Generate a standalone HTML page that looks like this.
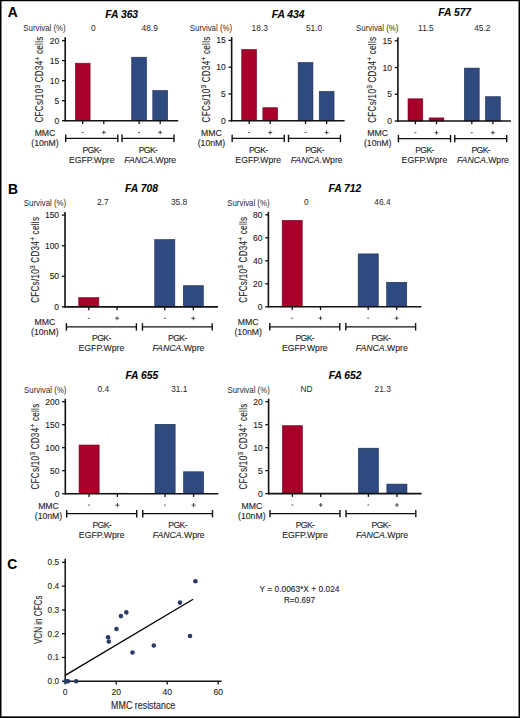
<!DOCTYPE html>
<html><head><meta charset="utf-8"><style>
html,body{margin:0;padding:0;background:#fff;}
body{width:520px;height:718px;overflow:hidden;position:relative;}
svg{position:absolute;left:0;top:0;font-family:'Liberation Sans', sans-serif;}
text{stroke:#333;stroke-width:0.12px;}
</style></head><body>
<svg width="520" height="718" viewBox="0 0 520 718">
<rect x="0" y="0" width="520" height="718" fill="#fff"/>
<rect x="1" y="1" width="1" height="716" fill="#000" fill-opacity="0.5"/>
<rect x="1" y="1" width="517" height="1" fill="#000" fill-opacity="0.22"/>
<rect x="518" y="1" width="1" height="716" fill="#000" fill-opacity="0.5"/>
<rect x="1" y="716" width="517" height="1" fill="#000" fill-opacity="0.65"/>
<rect x="0" y="0" width="1" height="718" fill="#000"/>
<rect x="0" y="0" width="520" height="1" fill="#000"/>
<rect x="519" y="0" width="1" height="718" fill="#000"/>
<rect x="0" y="717" width="520" height="1" fill="#000"/>
<g>
<rect x="75.30" y="63.20" width="14.80" height="57.50" fill="#a6002b" stroke="#730a24" stroke-width="0.6"/>
<rect x="131.70" y="57.20" width="14.80" height="63.50" fill="#2e4a7f" stroke="#1d2c52" stroke-width="0.6"/>
<rect x="152.80" y="90.50" width="14.80" height="30.20" fill="#2e4a7f" stroke="#1d2c52" stroke-width="0.6"/>
<line x1="65.20" y1="37.30" x2="65.20" y2="121.35" stroke="#111" stroke-width="1.6"/>
<line x1="64.55" y1="120.70" x2="178.20" y2="120.70" stroke="#111" stroke-width="1.6"/>
<line x1="62.00" y1="120.70" x2="65.20" y2="120.70" stroke="#111" stroke-width="1.3"/>
<text x="59.30" y="123.70" font-size="8.5" text-anchor="end" font-weight="normal" font-style="normal" fill="#222" >0</text>
<line x1="62.00" y1="100.68" x2="65.20" y2="100.68" stroke="#111" stroke-width="1.3"/>
<text x="59.30" y="103.68" font-size="8.5" text-anchor="end" font-weight="normal" font-style="normal" fill="#222" >5</text>
<line x1="62.00" y1="80.65" x2="65.20" y2="80.65" stroke="#111" stroke-width="1.3"/>
<text x="59.30" y="83.65" font-size="8.5" text-anchor="end" font-weight="normal" font-style="normal" fill="#222" >10</text>
<line x1="62.00" y1="60.63" x2="65.20" y2="60.63" stroke="#111" stroke-width="1.3"/>
<text x="59.30" y="63.63" font-size="8.5" text-anchor="end" font-weight="normal" font-style="normal" fill="#222" >15</text>
<line x1="62.00" y1="40.60" x2="65.20" y2="40.60" stroke="#111" stroke-width="1.3"/>
<text x="59.30" y="43.60" font-size="8.5" text-anchor="end" font-weight="normal" font-style="normal" fill="#222" >20</text>
<line x1="82.70" y1="120.70" x2="82.70" y2="124.00" stroke="#111" stroke-width="1.3"/>
<line x1="103.80" y1="120.70" x2="103.80" y2="124.00" stroke="#111" stroke-width="1.3"/>
<line x1="139.10" y1="120.70" x2="139.10" y2="124.00" stroke="#111" stroke-width="1.3"/>
<line x1="160.20" y1="120.70" x2="160.20" y2="124.00" stroke="#111" stroke-width="1.3"/>
<line x1="81.70" y1="132.40" x2="83.70" y2="132.40" stroke="#333" stroke-width="0.8"/>
<line x1="101.80" y1="132.40" x2="105.80" y2="132.40" stroke="#333" stroke-width="0.85"/>
<line x1="103.80" y1="130.40" x2="103.80" y2="134.40" stroke="#333" stroke-width="0.85"/>
<line x1="138.10" y1="132.40" x2="140.10" y2="132.40" stroke="#333" stroke-width="0.8"/>
<line x1="158.20" y1="132.40" x2="162.20" y2="132.40" stroke="#333" stroke-width="0.85"/>
<line x1="160.20" y1="130.40" x2="160.20" y2="134.40" stroke="#333" stroke-width="0.85"/>
<text x="45.00" y="135.60" font-size="8.7" text-anchor="middle" font-weight="normal" font-style="normal" fill="#222" >MMC</text>
<text x="45.00" y="145.80" font-size="8.7" text-anchor="middle" font-weight="normal" font-style="normal" fill="#222" >(10nM)</text>
<line x1="65.70" y1="138.30" x2="117.80" y2="138.30" stroke="#111" stroke-width="1.2"/>
<line x1="65.70" y1="134.60" x2="65.70" y2="142.00" stroke="#111" stroke-width="1.4"/>
<line x1="117.80" y1="134.60" x2="117.80" y2="142.00" stroke="#111" stroke-width="1.4"/>
<line x1="122.05" y1="138.30" x2="174.00" y2="138.30" stroke="#111" stroke-width="1.2"/>
<line x1="122.05" y1="134.60" x2="122.05" y2="142.00" stroke="#111" stroke-width="1.4"/>
<line x1="174.00" y1="134.60" x2="174.00" y2="142.00" stroke="#111" stroke-width="1.4"/>
<text x="91.75" y="152.70" font-size="8.7" text-anchor="middle" font-weight="normal" font-style="normal" fill="#222" letter-spacing="-0.65">PGK-</text>
<text x="91.75" y="162.50" font-size="8.7" text-anchor="middle" font-weight="normal" font-style="normal" fill="#222" >EGFP.Wpre</text>
<text x="148.03" y="152.70" font-size="8.7" text-anchor="middle" font-weight="normal" font-style="normal" fill="#222" letter-spacing="-0.65">PGK-</text>
<text x="150.22" y="162.50" font-size="8.7" text-anchor="middle" font-weight="normal" font-style="normal" fill="#222" ><tspan font-style="italic">FANCA</tspan>.Wpre</text>
<text transform="translate(65.70,31.00) scale(0.915,1)" font-size="8.6" text-anchor="end" fill="#2a2a2a" style="stroke:none">Survival (%)</text>
<text x="93.25" y="30.50" font-size="8.4" text-anchor="middle" font-weight="normal" font-style="normal" fill="#2a2a2a" style="stroke:none">0</text>
<text x="149.65" y="30.50" font-size="8.4" text-anchor="middle" font-weight="normal" font-style="normal" fill="#2a2a2a" style="stroke:none">48.9</text>
<text x="121.70" y="17.50" font-size="10.3" text-anchor="middle" font-weight="bold" font-style="italic" fill="#000" >FA 363</text>
<g transform="translate(43.40,79.45) rotate(-90)" fill="#222"><text transform="translate(-43.05,0) scale(0.745,1)" font-size="10.8" letter-spacing="0.42">CFCs/10</text><text transform="translate(-9.11,-3.7) scale(0.95,1)" font-size="7.0">3</text><text transform="translate(-5.42,0) scale(0.745,1)" font-size="10.8" letter-spacing="0.42">&#160;CD34</text><text transform="translate(18.96,-3.7) scale(0.95,1)" font-size="7.0">+</text><text transform="translate(22.84,0) scale(0.745,1)" font-size="10.8" letter-spacing="0.42">&#160;cells</text></g>
<rect x="241.75" y="49.40" width="14.80" height="71.40" fill="#a6002b" stroke="#730a24" stroke-width="0.6"/>
<rect x="262.85" y="107.70" width="14.80" height="13.10" fill="#a6002b" stroke="#730a24" stroke-width="0.6"/>
<rect x="298.15" y="62.50" width="14.80" height="58.30" fill="#2e4a7f" stroke="#1d2c52" stroke-width="0.6"/>
<rect x="319.25" y="91.40" width="14.80" height="29.40" fill="#2e4a7f" stroke="#1d2c52" stroke-width="0.6"/>
<line x1="231.65" y1="37.10" x2="231.65" y2="121.45" stroke="#111" stroke-width="1.6"/>
<line x1="231.00" y1="120.80" x2="344.65" y2="120.80" stroke="#111" stroke-width="1.6"/>
<line x1="228.45" y1="120.80" x2="231.65" y2="120.80" stroke="#111" stroke-width="1.3"/>
<text x="225.75" y="123.80" font-size="8.5" text-anchor="end" font-weight="normal" font-style="normal" fill="#222" >0</text>
<line x1="228.45" y1="94.00" x2="231.65" y2="94.00" stroke="#111" stroke-width="1.3"/>
<text x="225.75" y="97.00" font-size="8.5" text-anchor="end" font-weight="normal" font-style="normal" fill="#222" >5</text>
<line x1="228.45" y1="67.20" x2="231.65" y2="67.20" stroke="#111" stroke-width="1.3"/>
<text x="225.75" y="70.20" font-size="8.5" text-anchor="end" font-weight="normal" font-style="normal" fill="#222" >10</text>
<line x1="228.45" y1="40.40" x2="231.65" y2="40.40" stroke="#111" stroke-width="1.3"/>
<text x="225.75" y="43.40" font-size="8.5" text-anchor="end" font-weight="normal" font-style="normal" fill="#222" >15</text>
<line x1="249.15" y1="120.80" x2="249.15" y2="124.10" stroke="#111" stroke-width="1.3"/>
<line x1="270.25" y1="120.80" x2="270.25" y2="124.10" stroke="#111" stroke-width="1.3"/>
<line x1="305.55" y1="120.80" x2="305.55" y2="124.10" stroke="#111" stroke-width="1.3"/>
<line x1="326.65" y1="120.80" x2="326.65" y2="124.10" stroke="#111" stroke-width="1.3"/>
<line x1="248.15" y1="132.50" x2="250.15" y2="132.50" stroke="#333" stroke-width="0.8"/>
<line x1="268.25" y1="132.50" x2="272.25" y2="132.50" stroke="#333" stroke-width="0.85"/>
<line x1="270.25" y1="130.50" x2="270.25" y2="134.50" stroke="#333" stroke-width="0.85"/>
<line x1="304.55" y1="132.50" x2="306.55" y2="132.50" stroke="#333" stroke-width="0.8"/>
<line x1="324.65" y1="132.50" x2="328.65" y2="132.50" stroke="#333" stroke-width="0.85"/>
<line x1="326.65" y1="130.50" x2="326.65" y2="134.50" stroke="#333" stroke-width="0.85"/>
<text x="211.45" y="135.70" font-size="8.7" text-anchor="middle" font-weight="normal" font-style="normal" fill="#222" >MMC</text>
<text x="211.45" y="145.90" font-size="8.7" text-anchor="middle" font-weight="normal" font-style="normal" fill="#222" >(10nM)</text>
<line x1="232.15" y1="138.40" x2="284.25" y2="138.40" stroke="#111" stroke-width="1.2"/>
<line x1="232.15" y1="134.70" x2="232.15" y2="142.10" stroke="#111" stroke-width="1.4"/>
<line x1="284.25" y1="134.70" x2="284.25" y2="142.10" stroke="#111" stroke-width="1.4"/>
<line x1="288.50" y1="138.40" x2="340.45" y2="138.40" stroke="#111" stroke-width="1.2"/>
<line x1="288.50" y1="134.70" x2="288.50" y2="142.10" stroke="#111" stroke-width="1.4"/>
<line x1="340.45" y1="134.70" x2="340.45" y2="142.10" stroke="#111" stroke-width="1.4"/>
<text x="258.20" y="152.80" font-size="8.7" text-anchor="middle" font-weight="normal" font-style="normal" fill="#222" letter-spacing="-0.65">PGK-</text>
<text x="258.20" y="162.60" font-size="8.7" text-anchor="middle" font-weight="normal" font-style="normal" fill="#222" >EGFP.Wpre</text>
<text x="314.48" y="152.80" font-size="8.7" text-anchor="middle" font-weight="normal" font-style="normal" fill="#222" letter-spacing="-0.65">PGK-</text>
<text x="316.68" y="162.60" font-size="8.7" text-anchor="middle" font-weight="normal" font-style="normal" fill="#222" ><tspan font-style="italic">FANCA</tspan>.Wpre</text>
<text transform="translate(232.15,31.10) scale(0.915,1)" font-size="8.6" text-anchor="end" fill="#2a2a2a" style="stroke:none">Survival (%)</text>
<text x="259.70" y="30.60" font-size="8.4" text-anchor="middle" font-weight="normal" font-style="normal" fill="#2a2a2a" style="stroke:none">18.3</text>
<text x="314.10" y="30.60" font-size="8.4" text-anchor="middle" font-weight="normal" font-style="normal" fill="#2a2a2a" style="stroke:none">51.0</text>
<text x="288.15" y="17.60" font-size="10.3" text-anchor="middle" font-weight="bold" font-style="italic" fill="#000" >FA 434</text>
<g transform="translate(209.85,79.40) rotate(-90)" fill="#222"><text transform="translate(-43.05,0) scale(0.745,1)" font-size="10.8" letter-spacing="0.42">CFCs/10</text><text transform="translate(-9.11,-3.7) scale(0.95,1)" font-size="7.0">3</text><text transform="translate(-5.42,0) scale(0.745,1)" font-size="10.8" letter-spacing="0.42">&#160;CD34</text><text transform="translate(18.96,-3.7) scale(0.95,1)" font-size="7.0">+</text><text transform="translate(22.84,0) scale(0.745,1)" font-size="10.8" letter-spacing="0.42">&#160;cells</text></g>
<rect x="408.00" y="98.80" width="14.80" height="22.20" fill="#a6002b" stroke="#730a24" stroke-width="0.6"/>
<rect x="429.10" y="117.90" width="14.80" height="3.10" fill="#a6002b" stroke="#730a24" stroke-width="0.6"/>
<rect x="464.40" y="68.10" width="14.80" height="52.90" fill="#2e4a7f" stroke="#1d2c52" stroke-width="0.6"/>
<rect x="485.50" y="96.70" width="14.80" height="24.30" fill="#2e4a7f" stroke="#1d2c52" stroke-width="0.6"/>
<line x1="397.90" y1="37.50" x2="397.90" y2="121.65" stroke="#111" stroke-width="1.6"/>
<line x1="397.25" y1="121.00" x2="510.90" y2="121.00" stroke="#111" stroke-width="1.6"/>
<line x1="394.70" y1="121.00" x2="397.90" y2="121.00" stroke="#111" stroke-width="1.3"/>
<text x="392.00" y="124.00" font-size="8.5" text-anchor="end" font-weight="normal" font-style="normal" fill="#222" >0</text>
<line x1="394.70" y1="94.27" x2="397.90" y2="94.27" stroke="#111" stroke-width="1.3"/>
<text x="392.00" y="97.27" font-size="8.5" text-anchor="end" font-weight="normal" font-style="normal" fill="#222" >5</text>
<line x1="394.70" y1="67.53" x2="397.90" y2="67.53" stroke="#111" stroke-width="1.3"/>
<text x="392.00" y="70.53" font-size="8.5" text-anchor="end" font-weight="normal" font-style="normal" fill="#222" >10</text>
<line x1="394.70" y1="40.80" x2="397.90" y2="40.80" stroke="#111" stroke-width="1.3"/>
<text x="392.00" y="43.80" font-size="8.5" text-anchor="end" font-weight="normal" font-style="normal" fill="#222" >15</text>
<line x1="415.40" y1="121.00" x2="415.40" y2="124.30" stroke="#111" stroke-width="1.3"/>
<line x1="436.50" y1="121.00" x2="436.50" y2="124.30" stroke="#111" stroke-width="1.3"/>
<line x1="471.80" y1="121.00" x2="471.80" y2="124.30" stroke="#111" stroke-width="1.3"/>
<line x1="492.90" y1="121.00" x2="492.90" y2="124.30" stroke="#111" stroke-width="1.3"/>
<line x1="414.40" y1="132.70" x2="416.40" y2="132.70" stroke="#333" stroke-width="0.8"/>
<line x1="434.50" y1="132.70" x2="438.50" y2="132.70" stroke="#333" stroke-width="0.85"/>
<line x1="436.50" y1="130.70" x2="436.50" y2="134.70" stroke="#333" stroke-width="0.85"/>
<line x1="470.80" y1="132.70" x2="472.80" y2="132.70" stroke="#333" stroke-width="0.8"/>
<line x1="490.90" y1="132.70" x2="494.90" y2="132.70" stroke="#333" stroke-width="0.85"/>
<line x1="492.90" y1="130.70" x2="492.90" y2="134.70" stroke="#333" stroke-width="0.85"/>
<text x="377.70" y="135.90" font-size="8.7" text-anchor="middle" font-weight="normal" font-style="normal" fill="#222" >MMC</text>
<text x="377.70" y="146.10" font-size="8.7" text-anchor="middle" font-weight="normal" font-style="normal" fill="#222" >(10nM)</text>
<line x1="398.40" y1="138.60" x2="450.50" y2="138.60" stroke="#111" stroke-width="1.2"/>
<line x1="398.40" y1="134.90" x2="398.40" y2="142.30" stroke="#111" stroke-width="1.4"/>
<line x1="450.50" y1="134.90" x2="450.50" y2="142.30" stroke="#111" stroke-width="1.4"/>
<line x1="454.75" y1="138.60" x2="506.70" y2="138.60" stroke="#111" stroke-width="1.2"/>
<line x1="454.75" y1="134.90" x2="454.75" y2="142.30" stroke="#111" stroke-width="1.4"/>
<line x1="506.70" y1="134.90" x2="506.70" y2="142.30" stroke="#111" stroke-width="1.4"/>
<text x="424.45" y="153.00" font-size="8.7" text-anchor="middle" font-weight="normal" font-style="normal" fill="#222" letter-spacing="-0.65">PGK-</text>
<text x="424.45" y="162.80" font-size="8.7" text-anchor="middle" font-weight="normal" font-style="normal" fill="#222" >EGFP.Wpre</text>
<text x="480.72" y="153.00" font-size="8.7" text-anchor="middle" font-weight="normal" font-style="normal" fill="#222" letter-spacing="-0.65">PGK-</text>
<text x="482.92" y="162.80" font-size="8.7" text-anchor="middle" font-weight="normal" font-style="normal" fill="#222" ><tspan font-style="italic">FANCA</tspan>.Wpre</text>
<text transform="translate(398.40,31.30) scale(0.915,1)" font-size="8.6" text-anchor="end" fill="#2a2a2a" style="stroke:none">Survival (%)</text>
<text x="425.95" y="30.80" font-size="8.4" text-anchor="middle" font-weight="normal" font-style="normal" fill="#2a2a2a" style="stroke:none">11.5</text>
<text x="482.35" y="30.80" font-size="8.4" text-anchor="middle" font-weight="normal" font-style="normal" fill="#2a2a2a" style="stroke:none">45.2</text>
<text x="454.70" y="16.40" font-size="10.3" text-anchor="middle" font-weight="bold" font-style="italic" fill="#000" >FA 577</text>
<g transform="translate(376.10,79.70) rotate(-90)" fill="#222"><text transform="translate(-43.05,0) scale(0.745,1)" font-size="10.8" letter-spacing="0.42">CFCs/10</text><text transform="translate(-9.11,-3.7) scale(0.95,1)" font-size="7.0">3</text><text transform="translate(-5.42,0) scale(0.745,1)" font-size="10.8" letter-spacing="0.42">&#160;CD34</text><text transform="translate(18.96,-3.7) scale(0.95,1)" font-size="7.0">+</text><text transform="translate(22.84,0) scale(0.745,1)" font-size="10.8" letter-spacing="0.42">&#160;cells</text></g>
<rect x="78.75" y="297.60" width="20.10" height="9.30" fill="#a6002b" stroke="#730a24" stroke-width="0.6"/>
<rect x="154.75" y="239.60" width="20.10" height="67.30" fill="#2e4a7f" stroke="#1d2c52" stroke-width="0.6"/>
<rect x="183.25" y="285.70" width="20.10" height="21.20" fill="#2e4a7f" stroke="#1d2c52" stroke-width="0.6"/>
<line x1="65.00" y1="212.10" x2="65.00" y2="307.55" stroke="#111" stroke-width="1.6"/>
<line x1="64.35" y1="306.90" x2="218.00" y2="306.90" stroke="#111" stroke-width="1.6"/>
<line x1="61.80" y1="306.90" x2="65.00" y2="306.90" stroke="#111" stroke-width="1.3"/>
<text x="59.10" y="309.90" font-size="8.5" text-anchor="end" font-weight="normal" font-style="normal" fill="#222" >0</text>
<line x1="61.80" y1="276.30" x2="65.00" y2="276.30" stroke="#111" stroke-width="1.3"/>
<text x="59.10" y="279.30" font-size="8.5" text-anchor="end" font-weight="normal" font-style="normal" fill="#222" >50</text>
<line x1="61.80" y1="245.70" x2="65.00" y2="245.70" stroke="#111" stroke-width="1.3"/>
<text x="59.10" y="248.70" font-size="8.5" text-anchor="end" font-weight="normal" font-style="normal" fill="#222" >100</text>
<line x1="61.80" y1="215.10" x2="65.00" y2="215.10" stroke="#111" stroke-width="1.3"/>
<text x="59.10" y="218.10" font-size="8.5" text-anchor="end" font-weight="normal" font-style="normal" fill="#222" >150</text>
<line x1="88.80" y1="306.90" x2="88.80" y2="310.20" stroke="#111" stroke-width="1.3"/>
<line x1="117.10" y1="306.90" x2="117.10" y2="310.20" stroke="#111" stroke-width="1.3"/>
<line x1="164.80" y1="306.90" x2="164.80" y2="310.20" stroke="#111" stroke-width="1.3"/>
<line x1="193.30" y1="306.90" x2="193.30" y2="310.20" stroke="#111" stroke-width="1.3"/>
<line x1="87.80" y1="318.30" x2="89.80" y2="318.30" stroke="#333" stroke-width="0.8"/>
<line x1="115.10" y1="318.30" x2="119.10" y2="318.30" stroke="#333" stroke-width="0.85"/>
<line x1="117.10" y1="316.30" x2="117.10" y2="320.30" stroke="#333" stroke-width="0.85"/>
<line x1="163.80" y1="318.30" x2="165.80" y2="318.30" stroke="#333" stroke-width="0.8"/>
<line x1="191.30" y1="318.30" x2="195.30" y2="318.30" stroke="#333" stroke-width="0.85"/>
<line x1="193.30" y1="316.30" x2="193.30" y2="320.30" stroke="#333" stroke-width="0.85"/>
<text x="44.80" y="325.00" font-size="8.7" text-anchor="middle" font-weight="normal" font-style="normal" fill="#222" >MMC</text>
<text x="44.80" y="335.10" font-size="8.7" text-anchor="middle" font-weight="normal" font-style="normal" fill="#222" >(10nM)</text>
<line x1="66.40" y1="326.90" x2="136.40" y2="326.90" stroke="#111" stroke-width="1.2"/>
<line x1="66.40" y1="323.20" x2="66.40" y2="330.60" stroke="#111" stroke-width="1.4"/>
<line x1="136.40" y1="323.20" x2="136.40" y2="330.60" stroke="#111" stroke-width="1.4"/>
<line x1="142.45" y1="326.90" x2="212.20" y2="326.90" stroke="#111" stroke-width="1.2"/>
<line x1="142.45" y1="323.20" x2="142.45" y2="330.60" stroke="#111" stroke-width="1.4"/>
<line x1="212.20" y1="323.20" x2="212.20" y2="330.60" stroke="#111" stroke-width="1.4"/>
<text x="101.40" y="341.30" font-size="8.7" text-anchor="middle" font-weight="normal" font-style="normal" fill="#222" letter-spacing="-0.65">PGK-</text>
<text x="101.40" y="350.90" font-size="8.7" text-anchor="middle" font-weight="normal" font-style="normal" fill="#222" >EGFP.Wpre</text>
<text x="177.32" y="341.30" font-size="8.7" text-anchor="middle" font-weight="normal" font-style="normal" fill="#222" letter-spacing="-0.65">PGK-</text>
<text x="178.42" y="350.90" font-size="8.7" text-anchor="middle" font-weight="normal" font-style="normal" fill="#222" ><tspan font-style="italic">FANCA</tspan>.Wpre</text>
<text transform="translate(66.20,205.90) scale(0.915,1)" font-size="8.6" text-anchor="end" fill="#2a2a2a" style="stroke:none">Survival (%)</text>
<text x="102.95" y="205.40" font-size="8.4" text-anchor="middle" font-weight="normal" font-style="normal" fill="#2a2a2a" style="stroke:none">2.7</text>
<text x="179.05" y="205.40" font-size="8.4" text-anchor="middle" font-weight="normal" font-style="normal" fill="#2a2a2a" style="stroke:none">35.8</text>
<text x="141.50" y="191.90" font-size="10.3" text-anchor="middle" font-weight="bold" font-style="italic" fill="#000" >FA 708</text>
<g transform="translate(38.50,259.80) rotate(-90)" fill="#222"><text transform="translate(-43.05,0) scale(0.745,1)" font-size="10.8" letter-spacing="0.42">CFCs/10</text><text transform="translate(-9.11,-3.7) scale(0.95,1)" font-size="7.0">3</text><text transform="translate(-5.42,0) scale(0.745,1)" font-size="10.8" letter-spacing="0.42">&#160;CD34</text><text transform="translate(18.96,-3.7) scale(0.95,1)" font-size="7.0">+</text><text transform="translate(22.84,0) scale(0.745,1)" font-size="10.8" letter-spacing="0.42">&#160;cells</text></g>
<rect x="282.15" y="220.30" width="20.10" height="86.50" fill="#a6002b" stroke="#730a24" stroke-width="0.6"/>
<rect x="358.15" y="253.90" width="20.10" height="52.90" fill="#2e4a7f" stroke="#1d2c52" stroke-width="0.6"/>
<rect x="386.65" y="282.30" width="20.10" height="24.50" fill="#2e4a7f" stroke="#1d2c52" stroke-width="0.6"/>
<line x1="268.40" y1="211.80" x2="268.40" y2="307.45" stroke="#111" stroke-width="1.6"/>
<line x1="267.75" y1="306.80" x2="421.40" y2="306.80" stroke="#111" stroke-width="1.6"/>
<line x1="265.20" y1="306.80" x2="268.40" y2="306.80" stroke="#111" stroke-width="1.3"/>
<text x="262.50" y="309.80" font-size="8.5" text-anchor="end" font-weight="normal" font-style="normal" fill="#222" >0</text>
<line x1="265.20" y1="283.80" x2="268.40" y2="283.80" stroke="#111" stroke-width="1.3"/>
<text x="262.50" y="286.80" font-size="8.5" text-anchor="end" font-weight="normal" font-style="normal" fill="#222" >20</text>
<line x1="265.20" y1="260.80" x2="268.40" y2="260.80" stroke="#111" stroke-width="1.3"/>
<text x="262.50" y="263.80" font-size="8.5" text-anchor="end" font-weight="normal" font-style="normal" fill="#222" >40</text>
<line x1="265.20" y1="237.80" x2="268.40" y2="237.80" stroke="#111" stroke-width="1.3"/>
<text x="262.50" y="240.80" font-size="8.5" text-anchor="end" font-weight="normal" font-style="normal" fill="#222" >60</text>
<line x1="265.20" y1="214.80" x2="268.40" y2="214.80" stroke="#111" stroke-width="1.3"/>
<text x="262.50" y="217.80" font-size="8.5" text-anchor="end" font-weight="normal" font-style="normal" fill="#222" >80</text>
<line x1="292.20" y1="306.80" x2="292.20" y2="310.10" stroke="#111" stroke-width="1.3"/>
<line x1="320.50" y1="306.80" x2="320.50" y2="310.10" stroke="#111" stroke-width="1.3"/>
<line x1="368.20" y1="306.80" x2="368.20" y2="310.10" stroke="#111" stroke-width="1.3"/>
<line x1="396.70" y1="306.80" x2="396.70" y2="310.10" stroke="#111" stroke-width="1.3"/>
<line x1="291.20" y1="318.20" x2="293.20" y2="318.20" stroke="#333" stroke-width="0.8"/>
<line x1="318.50" y1="318.20" x2="322.50" y2="318.20" stroke="#333" stroke-width="0.85"/>
<line x1="320.50" y1="316.20" x2="320.50" y2="320.20" stroke="#333" stroke-width="0.85"/>
<line x1="367.20" y1="318.20" x2="369.20" y2="318.20" stroke="#333" stroke-width="0.8"/>
<line x1="394.70" y1="318.20" x2="398.70" y2="318.20" stroke="#333" stroke-width="0.85"/>
<line x1="396.70" y1="316.20" x2="396.70" y2="320.20" stroke="#333" stroke-width="0.85"/>
<text x="248.20" y="324.90" font-size="8.7" text-anchor="middle" font-weight="normal" font-style="normal" fill="#222" >MMC</text>
<text x="248.20" y="335.00" font-size="8.7" text-anchor="middle" font-weight="normal" font-style="normal" fill="#222" >(10nM)</text>
<line x1="269.80" y1="326.80" x2="339.80" y2="326.80" stroke="#111" stroke-width="1.2"/>
<line x1="269.80" y1="323.10" x2="269.80" y2="330.50" stroke="#111" stroke-width="1.4"/>
<line x1="339.80" y1="323.10" x2="339.80" y2="330.50" stroke="#111" stroke-width="1.4"/>
<line x1="345.85" y1="326.80" x2="415.60" y2="326.80" stroke="#111" stroke-width="1.2"/>
<line x1="345.85" y1="323.10" x2="345.85" y2="330.50" stroke="#111" stroke-width="1.4"/>
<line x1="415.60" y1="323.10" x2="415.60" y2="330.50" stroke="#111" stroke-width="1.4"/>
<text x="304.80" y="341.20" font-size="8.7" text-anchor="middle" font-weight="normal" font-style="normal" fill="#222" letter-spacing="-0.65">PGK-</text>
<text x="304.80" y="350.80" font-size="8.7" text-anchor="middle" font-weight="normal" font-style="normal" fill="#222" >EGFP.Wpre</text>
<text x="380.72" y="341.20" font-size="8.7" text-anchor="middle" font-weight="normal" font-style="normal" fill="#222" letter-spacing="-0.65">PGK-</text>
<text x="381.82" y="350.80" font-size="8.7" text-anchor="middle" font-weight="normal" font-style="normal" fill="#222" ><tspan font-style="italic">FANCA</tspan>.Wpre</text>
<text transform="translate(269.60,205.80) scale(0.915,1)" font-size="8.6" text-anchor="end" fill="#2a2a2a" style="stroke:none">Survival (%)</text>
<text x="306.35" y="205.30" font-size="8.4" text-anchor="middle" font-weight="normal" font-style="normal" fill="#2a2a2a" style="stroke:none">0</text>
<text x="382.45" y="205.30" font-size="8.4" text-anchor="middle" font-weight="normal" font-style="normal" fill="#2a2a2a" style="stroke:none">46.4</text>
<text x="344.90" y="191.80" font-size="10.3" text-anchor="middle" font-weight="bold" font-style="italic" fill="#000" >FA 712</text>
<g transform="translate(246.90,259.60) rotate(-90)" fill="#222"><text transform="translate(-43.05,0) scale(0.745,1)" font-size="10.8" letter-spacing="0.42">CFCs/10</text><text transform="translate(-9.11,-3.7) scale(0.95,1)" font-size="7.0">3</text><text transform="translate(-5.42,0) scale(0.745,1)" font-size="10.8" letter-spacing="0.42">&#160;CD34</text><text transform="translate(18.96,-3.7) scale(0.95,1)" font-size="7.0">+</text><text transform="translate(22.84,0) scale(0.745,1)" font-size="10.8" letter-spacing="0.42">&#160;cells</text></g>
<rect x="79.05" y="445.00" width="20.10" height="48.70" fill="#a6002b" stroke="#730a24" stroke-width="0.6"/>
<rect x="107.35" y="493.20" width="20.10" height="0.50" fill="#a6002b" stroke="#730a24" stroke-width="0.6"/>
<rect x="155.05" y="424.30" width="20.10" height="69.40" fill="#2e4a7f" stroke="#1d2c52" stroke-width="0.6"/>
<rect x="183.55" y="471.80" width="20.10" height="21.90" fill="#2e4a7f" stroke="#1d2c52" stroke-width="0.6"/>
<line x1="65.30" y1="398.70" x2="65.30" y2="494.35" stroke="#111" stroke-width="1.6"/>
<line x1="64.65" y1="493.70" x2="218.30" y2="493.70" stroke="#111" stroke-width="1.6"/>
<line x1="62.10" y1="493.70" x2="65.30" y2="493.70" stroke="#111" stroke-width="1.3"/>
<text x="59.40" y="496.70" font-size="8.5" text-anchor="end" font-weight="normal" font-style="normal" fill="#222" >0</text>
<line x1="62.10" y1="470.70" x2="65.30" y2="470.70" stroke="#111" stroke-width="1.3"/>
<text x="59.40" y="473.70" font-size="8.5" text-anchor="end" font-weight="normal" font-style="normal" fill="#222" >50</text>
<line x1="62.10" y1="447.70" x2="65.30" y2="447.70" stroke="#111" stroke-width="1.3"/>
<text x="59.40" y="450.70" font-size="8.5" text-anchor="end" font-weight="normal" font-style="normal" fill="#222" >100</text>
<line x1="62.10" y1="424.70" x2="65.30" y2="424.70" stroke="#111" stroke-width="1.3"/>
<text x="59.40" y="427.70" font-size="8.5" text-anchor="end" font-weight="normal" font-style="normal" fill="#222" >150</text>
<line x1="62.10" y1="401.70" x2="65.30" y2="401.70" stroke="#111" stroke-width="1.3"/>
<text x="59.40" y="404.70" font-size="8.5" text-anchor="end" font-weight="normal" font-style="normal" fill="#222" >200</text>
<line x1="89.10" y1="493.70" x2="89.10" y2="497.00" stroke="#111" stroke-width="1.3"/>
<line x1="117.40" y1="493.70" x2="117.40" y2="497.00" stroke="#111" stroke-width="1.3"/>
<line x1="165.10" y1="493.70" x2="165.10" y2="497.00" stroke="#111" stroke-width="1.3"/>
<line x1="193.60" y1="493.70" x2="193.60" y2="497.00" stroke="#111" stroke-width="1.3"/>
<line x1="88.10" y1="505.10" x2="90.10" y2="505.10" stroke="#333" stroke-width="0.8"/>
<line x1="115.40" y1="505.10" x2="119.40" y2="505.10" stroke="#333" stroke-width="0.85"/>
<line x1="117.40" y1="503.10" x2="117.40" y2="507.10" stroke="#333" stroke-width="0.85"/>
<line x1="164.10" y1="505.10" x2="166.10" y2="505.10" stroke="#333" stroke-width="0.8"/>
<line x1="191.60" y1="505.10" x2="195.60" y2="505.10" stroke="#333" stroke-width="0.85"/>
<line x1="193.60" y1="503.10" x2="193.60" y2="507.10" stroke="#333" stroke-width="0.85"/>
<text x="48.50" y="509.00" font-size="8.7" text-anchor="middle" font-weight="normal" font-style="normal" fill="#222" >MMC</text>
<text x="48.50" y="519.10" font-size="8.7" text-anchor="middle" font-weight="normal" font-style="normal" fill="#222" >(10nM)</text>
<line x1="66.70" y1="513.70" x2="136.70" y2="513.70" stroke="#111" stroke-width="1.2"/>
<line x1="66.70" y1="510.00" x2="66.70" y2="517.40" stroke="#111" stroke-width="1.4"/>
<line x1="136.70" y1="510.00" x2="136.70" y2="517.40" stroke="#111" stroke-width="1.4"/>
<line x1="142.75" y1="513.70" x2="212.50" y2="513.70" stroke="#111" stroke-width="1.2"/>
<line x1="142.75" y1="510.00" x2="142.75" y2="517.40" stroke="#111" stroke-width="1.4"/>
<line x1="212.50" y1="510.00" x2="212.50" y2="517.40" stroke="#111" stroke-width="1.4"/>
<text x="101.70" y="528.10" font-size="8.7" text-anchor="middle" font-weight="normal" font-style="normal" fill="#222" letter-spacing="-0.65">PGK-</text>
<text x="101.70" y="537.70" font-size="8.7" text-anchor="middle" font-weight="normal" font-style="normal" fill="#222" >EGFP.Wpre</text>
<text x="177.62" y="528.10" font-size="8.7" text-anchor="middle" font-weight="normal" font-style="normal" fill="#222" letter-spacing="-0.65">PGK-</text>
<text x="178.72" y="537.70" font-size="8.7" text-anchor="middle" font-weight="normal" font-style="normal" fill="#222" ><tspan font-style="italic">FANCA</tspan>.Wpre</text>
<text transform="translate(66.50,392.70) scale(0.915,1)" font-size="8.6" text-anchor="end" fill="#2a2a2a" style="stroke:none">Survival (%)</text>
<text x="103.25" y="392.20" font-size="8.4" text-anchor="middle" font-weight="normal" font-style="normal" fill="#2a2a2a" style="stroke:none">0.4</text>
<text x="179.35" y="392.20" font-size="8.4" text-anchor="middle" font-weight="normal" font-style="normal" fill="#2a2a2a" style="stroke:none">31.1</text>
<text x="141.80" y="378.70" font-size="10.3" text-anchor="middle" font-weight="bold" font-style="italic" fill="#000" >FA 655</text>
<g transform="translate(38.80,446.50) rotate(-90)" fill="#222"><text transform="translate(-43.05,0) scale(0.745,1)" font-size="10.8" letter-spacing="0.42">CFCs/10</text><text transform="translate(-9.11,-3.7) scale(0.95,1)" font-size="7.0">3</text><text transform="translate(-5.42,0) scale(0.745,1)" font-size="10.8" letter-spacing="0.42">&#160;CD34</text><text transform="translate(18.96,-3.7) scale(0.95,1)" font-size="7.0">+</text><text transform="translate(22.84,0) scale(0.745,1)" font-size="10.8" letter-spacing="0.42">&#160;cells</text></g>
<rect x="282.35" y="425.70" width="20.10" height="67.90" fill="#a6002b" stroke="#730a24" stroke-width="0.6"/>
<rect x="358.35" y="448.20" width="20.10" height="45.40" fill="#2e4a7f" stroke="#1d2c52" stroke-width="0.6"/>
<rect x="386.85" y="484.10" width="20.10" height="9.50" fill="#2e4a7f" stroke="#1d2c52" stroke-width="0.6"/>
<line x1="268.60" y1="398.70" x2="268.60" y2="494.25" stroke="#111" stroke-width="1.6"/>
<line x1="267.95" y1="493.60" x2="421.60" y2="493.60" stroke="#111" stroke-width="1.6"/>
<line x1="265.40" y1="493.60" x2="268.60" y2="493.60" stroke="#111" stroke-width="1.3"/>
<text x="262.70" y="496.60" font-size="8.5" text-anchor="end" font-weight="normal" font-style="normal" fill="#222" >0</text>
<line x1="265.40" y1="470.62" x2="268.60" y2="470.62" stroke="#111" stroke-width="1.3"/>
<text x="262.70" y="473.62" font-size="8.5" text-anchor="end" font-weight="normal" font-style="normal" fill="#222" >5</text>
<line x1="265.40" y1="447.65" x2="268.60" y2="447.65" stroke="#111" stroke-width="1.3"/>
<text x="262.70" y="450.65" font-size="8.5" text-anchor="end" font-weight="normal" font-style="normal" fill="#222" >10</text>
<line x1="265.40" y1="424.68" x2="268.60" y2="424.68" stroke="#111" stroke-width="1.3"/>
<text x="262.70" y="427.68" font-size="8.5" text-anchor="end" font-weight="normal" font-style="normal" fill="#222" >15</text>
<line x1="265.40" y1="401.70" x2="268.60" y2="401.70" stroke="#111" stroke-width="1.3"/>
<text x="262.70" y="404.70" font-size="8.5" text-anchor="end" font-weight="normal" font-style="normal" fill="#222" >20</text>
<line x1="292.40" y1="493.60" x2="292.40" y2="496.90" stroke="#111" stroke-width="1.3"/>
<line x1="320.70" y1="493.60" x2="320.70" y2="496.90" stroke="#111" stroke-width="1.3"/>
<line x1="368.40" y1="493.60" x2="368.40" y2="496.90" stroke="#111" stroke-width="1.3"/>
<line x1="396.90" y1="493.60" x2="396.90" y2="496.90" stroke="#111" stroke-width="1.3"/>
<line x1="291.40" y1="505.00" x2="293.40" y2="505.00" stroke="#333" stroke-width="0.8"/>
<line x1="318.70" y1="505.00" x2="322.70" y2="505.00" stroke="#333" stroke-width="0.85"/>
<line x1="320.70" y1="503.00" x2="320.70" y2="507.00" stroke="#333" stroke-width="0.85"/>
<line x1="367.40" y1="505.00" x2="369.40" y2="505.00" stroke="#333" stroke-width="0.8"/>
<line x1="394.90" y1="505.00" x2="398.90" y2="505.00" stroke="#333" stroke-width="0.85"/>
<line x1="396.90" y1="503.00" x2="396.90" y2="507.00" stroke="#333" stroke-width="0.85"/>
<text x="251.80" y="508.90" font-size="8.7" text-anchor="middle" font-weight="normal" font-style="normal" fill="#222" >MMC</text>
<text x="251.80" y="519.00" font-size="8.7" text-anchor="middle" font-weight="normal" font-style="normal" fill="#222" >(10nM)</text>
<line x1="270.00" y1="513.60" x2="340.00" y2="513.60" stroke="#111" stroke-width="1.2"/>
<line x1="270.00" y1="509.90" x2="270.00" y2="517.30" stroke="#111" stroke-width="1.4"/>
<line x1="340.00" y1="509.90" x2="340.00" y2="517.30" stroke="#111" stroke-width="1.4"/>
<line x1="346.05" y1="513.60" x2="415.80" y2="513.60" stroke="#111" stroke-width="1.2"/>
<line x1="346.05" y1="509.90" x2="346.05" y2="517.30" stroke="#111" stroke-width="1.4"/>
<line x1="415.80" y1="509.90" x2="415.80" y2="517.30" stroke="#111" stroke-width="1.4"/>
<text x="305.00" y="528.00" font-size="8.7" text-anchor="middle" font-weight="normal" font-style="normal" fill="#222" letter-spacing="-0.65">PGK-</text>
<text x="305.00" y="537.60" font-size="8.7" text-anchor="middle" font-weight="normal" font-style="normal" fill="#222" >EGFP.Wpre</text>
<text x="380.93" y="528.00" font-size="8.7" text-anchor="middle" font-weight="normal" font-style="normal" fill="#222" letter-spacing="-0.65">PGK-</text>
<text x="382.03" y="537.60" font-size="8.7" text-anchor="middle" font-weight="normal" font-style="normal" fill="#222" ><tspan font-style="italic">FANCA</tspan>.Wpre</text>
<text transform="translate(269.80,392.60) scale(0.915,1)" font-size="8.6" text-anchor="end" fill="#2a2a2a" style="stroke:none">Survival (%)</text>
<text x="306.55" y="392.10" font-size="8.4" text-anchor="middle" font-weight="normal" font-style="normal" fill="#2a2a2a" style="stroke:none">ND</text>
<text x="382.65" y="392.10" font-size="8.4" text-anchor="middle" font-weight="normal" font-style="normal" fill="#2a2a2a" style="stroke:none">21.3</text>
<text x="345.10" y="378.60" font-size="10.3" text-anchor="middle" font-weight="bold" font-style="italic" fill="#000" >FA 652</text>
<g transform="translate(246.70,446.45) rotate(-90)" fill="#222"><text transform="translate(-43.05,0) scale(0.745,1)" font-size="10.8" letter-spacing="0.42">CFCs/10</text><text transform="translate(-9.11,-3.7) scale(0.95,1)" font-size="7.0">3</text><text transform="translate(-5.42,0) scale(0.745,1)" font-size="10.8" letter-spacing="0.42">&#160;CD34</text><text transform="translate(18.96,-3.7) scale(0.95,1)" font-size="7.0">+</text><text transform="translate(22.84,0) scale(0.745,1)" font-size="10.8" letter-spacing="0.42">&#160;cells</text></g>
<text x="7.70" y="16.90" font-size="13.8" text-anchor="start" font-weight="bold" font-style="normal" fill="#000" >A</text>
<text x="7.90" y="193.70" font-size="13.8" text-anchor="start" font-weight="bold" font-style="normal" fill="#000" >B</text>
<text x="7.30" y="568.50" font-size="13.8" text-anchor="start" font-weight="bold" font-style="normal" fill="#000" >C</text>
<line x1="65.20" y1="558.80" x2="65.20" y2="682.00" stroke="#111" stroke-width="1.5"/>
<line x1="64.50" y1="681.30" x2="221.60" y2="681.30" stroke="#111" stroke-width="1.5"/>
<line x1="62.00" y1="681.30" x2="65.20" y2="681.30" stroke="#111" stroke-width="1.3"/>
<text x="59.00" y="684.20" font-size="8.4" text-anchor="end" font-weight="normal" font-style="normal" fill="#222" textLength="11.4" lengthAdjust="spacingAndGlyphs">0.0</text>
<line x1="62.00" y1="657.50" x2="65.20" y2="657.50" stroke="#111" stroke-width="1.3"/>
<text x="59.00" y="660.40" font-size="8.4" text-anchor="end" font-weight="normal" font-style="normal" fill="#222" textLength="11.4" lengthAdjust="spacingAndGlyphs">0.1</text>
<line x1="62.00" y1="633.70" x2="65.20" y2="633.70" stroke="#111" stroke-width="1.3"/>
<text x="59.00" y="636.60" font-size="8.4" text-anchor="end" font-weight="normal" font-style="normal" fill="#222" textLength="11.4" lengthAdjust="spacingAndGlyphs">0.2</text>
<line x1="62.00" y1="609.90" x2="65.20" y2="609.90" stroke="#111" stroke-width="1.3"/>
<text x="59.00" y="612.80" font-size="8.4" text-anchor="end" font-weight="normal" font-style="normal" fill="#222" textLength="11.4" lengthAdjust="spacingAndGlyphs">0.3</text>
<line x1="62.00" y1="586.10" x2="65.20" y2="586.10" stroke="#111" stroke-width="1.3"/>
<text x="59.00" y="589.00" font-size="8.4" text-anchor="end" font-weight="normal" font-style="normal" fill="#222" textLength="11.4" lengthAdjust="spacingAndGlyphs">0.4</text>
<line x1="62.00" y1="562.30" x2="65.20" y2="562.30" stroke="#111" stroke-width="1.3"/>
<text x="59.00" y="565.20" font-size="8.4" text-anchor="end" font-weight="normal" font-style="normal" fill="#222" textLength="11.4" lengthAdjust="spacingAndGlyphs">0.5</text>
<line x1="65.20" y1="681.30" x2="65.20" y2="684.60" stroke="#111" stroke-width="1.3"/>
<text x="65.20" y="695.20" font-size="8.6" text-anchor="middle" font-weight="normal" font-style="normal" fill="#222" >0</text>
<line x1="116.20" y1="681.30" x2="116.20" y2="684.60" stroke="#111" stroke-width="1.3"/>
<text x="116.20" y="695.20" font-size="8.6" text-anchor="middle" font-weight="normal" font-style="normal" fill="#222" >20</text>
<line x1="167.20" y1="681.30" x2="167.20" y2="684.60" stroke="#111" stroke-width="1.3"/>
<text x="167.20" y="695.20" font-size="8.6" text-anchor="middle" font-weight="normal" font-style="normal" fill="#222" >40</text>
<line x1="218.20" y1="681.30" x2="218.20" y2="684.60" stroke="#111" stroke-width="1.3"/>
<text x="218.20" y="695.20" font-size="8.6" text-anchor="middle" font-weight="normal" font-style="normal" fill="#222" >60</text>
<line x1="65.20" y1="675.40" x2="193.10" y2="599.30" stroke="#000" stroke-width="1.3"/>
<circle cx="108.10" cy="637.30" r="2.3" fill="#2b3a66"/>
<circle cx="108.80" cy="641.50" r="2.3" fill="#2b3a66"/>
<circle cx="116.50" cy="629.00" r="2.3" fill="#2b3a66"/>
<circle cx="120.90" cy="616.10" r="2.3" fill="#2b3a66"/>
<circle cx="126.30" cy="612.40" r="2.3" fill="#2b3a66"/>
<circle cx="132.50" cy="652.50" r="2.3" fill="#2b3a66"/>
<circle cx="153.80" cy="645.50" r="2.3" fill="#2b3a66"/>
<circle cx="180.00" cy="602.60" r="2.3" fill="#2b3a66"/>
<circle cx="190.00" cy="636.00" r="2.3" fill="#2b3a66"/>
<circle cx="195.40" cy="581.20" r="2.3" fill="#2b3a66"/>
<circle cx="65.50" cy="681.20" r="2.3" fill="#2b3a66"/>
<circle cx="68.00" cy="681.20" r="2.3" fill="#2b3a66"/>
<circle cx="76.20" cy="681.20" r="2.3" fill="#2b3a66"/>
<circle cx="66.50" cy="681.20" r="2.3" fill="#2b3a66"/>
<text transform="translate(143.2,709.4) scale(0.89,1)" font-size="10" text-anchor="middle" fill="#222">MMC resistance</text>
<text transform="translate(42.0,619.8) rotate(-90) scale(0.81,1)" font-size="10" text-anchor="middle" fill="#222">VCN in CFCs</text>
<text x="299.50" y="592.00" font-size="8.4" text-anchor="middle" font-weight="normal" font-style="normal" fill="#222" >Y = 0.0063*X + 0.024</text>
<text x="299.50" y="602.50" font-size="8.2" text-anchor="middle" font-weight="normal" font-style="normal" fill="#222" >R=0.697</text>
</g>
</svg>
</body></html>
